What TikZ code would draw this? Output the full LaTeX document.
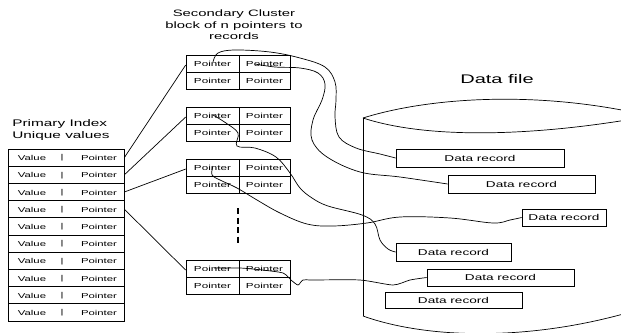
\documentclass[tikz,border=0pt]{standalone}
\usepackage{fontspec}
\setmainfont{Liberation Sans}[FakeStretch=1.6]
\usetikzlibrary{calc}
\begin{document}
\begin{tikzpicture}[x=1pt,y=-1pt,line width=0.7pt,
  celltext/.style={font=\fontsize{7.3}{8}\selectfont},
  pcell/.style={draw,inner sep=0pt,minimum height=17pt,celltext},
  blockbox/.style={draw,inner sep=0pt,minimum width=104pt,minimum height=34pt},
  pirow/.style={draw,inner sep=0pt,minimum width=116pt,minimum height=17.2pt},
  rowtext/.style={inner sep=0pt,font=\fontsize{7.1}{8}\selectfont},
  rec/.style={draw,inner sep=0pt,font=\fontsize{8.5}{9}\selectfont},
  wire/.style={line width=0.7pt},
  link/.style={line width=0.7pt,smooth,tension=0.6}]
\useasboundingbox (0,0) rectangle (621,332);
\fill[white] (0,0) rectangle (621,332);
\clip (0,0) rectangle (621,332);

% titles
\node[align=left,anchor=west,inner sep=0pt,font=\fontsize{9.6}{12.3}\selectfont] (pt) at (12,130) {Primary Index\\Unique values};
\node[align=center,inner sep=0pt,font=\fontsize{9.3}{11.4}\selectfont] (st) at (234,25) {Secondary Cluster\\block of n pointers to\\records};
\node[inner sep=0pt,font=\fontsize{12.5}{14}\selectfont] (df) at (497,79) {Data file};

% primary index table
\foreach \i in {1,...,10} {
  \pgfmathsetmacro{\yc}{149+17.2*\i-8.6}
  \node[pirow] (pi\i) at (66,\yc) {};
  \node[rowtext] (v\i) at (32,\yc+0.5) {Value};
  \node[rowtext] (s\i) at (62,\yc+0.5) {|};
  \node[rowtext] (p\i) at (99,\yc+0.5) {Pointer};
}

% secondary cluster blocks
\foreach \n/\yy in {1/55,2/107,3/159,4/260} {
  \node[blockbox] (b\n) at (238,\yy+17) {};
  \node[pcell,minimum width=53pt] (b\n-1) at (212.5,\yy+8.5) {Pointer};
  \node[pcell,minimum width=51pt] (b\n-2) at (264.5,\yy+8.5) {Pointer};
  \node[pcell,minimum width=53pt] (b\n-3) at (212.5,\yy+25.5) {Pointer};
  \node[pcell,minimum width=51pt] (b\n-4) at (264.5,\yy+25.5) {Pointer};
  \coordinate (b\n-in) at ($(b\n.north west)!0.3!(b\n.south west)$);
}

% index rows to blocks
\draw[wire] (pi1.east) -- (b1-in);
\draw[wire] (pi2.east) -- (b2-in);
\draw[wire] (pi3.east) -- (b3-in);
\draw[wire] (pi4.east) -- (b4-in);

% omitted blocks
\coordinate (d1) at (238,208);
\coordinate (d2) at (238,244);
\draw[line width=2.3pt,dash pattern=on 6pt off 3.5pt] (d1) -- (d2);

% data file cylinder
\draw (363,118) .. controls (430,97) and (540,90) .. (650,116);
\draw (363,118) .. controls (430,140) and (540,136) .. (650,116);
\draw (363,118) -- (363,316);
\draw (363,316) .. controls (430,340) and (540,342) .. (650,306);

% data records
\node[rec,minimum width=168pt,minimum height=18pt] (r1) at (480,158) {Data record};
\node[rec,minimum width=147pt,minimum height=18pt] (r2) at (521.5,184) {Data record};
\node[rec,minimum width=84pt,minimum height=17pt] (r3) at (564,217.5) {Data record};
\node[rec,minimum width=115pt,minimum height=18pt] (r4) at (453.5,252) {Data record};
\node[rec,minimum width=147pt,minimum height=17pt] (r5) at (500.5,277.5) {Data record};
\node[rec,minimum width=137pt,minimum height=16pt] (r6) at (453.5,300) {Data record};

% pointers to records
\coordinate (c1) at (213,62);
\coordinate (c2) at (255,64);
\coordinate (c3) at (213,115);
\coordinate (c4) at (213,166);
\coordinate (c5) at (214,268);

\draw[wire] plot[smooth,tension=0.6] coordinates {(c1) (218,53) (235,50) (270,52) (300,58) (325,67) (335,82) (336,100) (335,117) (339,137) (356,148) (380,154) (r1.west)};
\draw[wire] plot[smooth,tension=0.6] coordinates {(c2) (275,67) (300,68) (318,73) (325,84) (322,100) (313,120) (312,140) (327,157) (360,172) (400,177) (r2.west)};
\draw[wire] plot[smooth,tension=0.6] coordinates {(c3) (226,123) (238,133) (237,146) (255,148) (276,157) (290,173) (300,188) (312,198) (328,206) (362,215) (375,224) (380,240) (388,249) (r4.west)};
\draw[wire] plot[smooth,tension=0.6] coordinates {(c4) (212,175) (220,180) (237,188) (257,200) (280,213) (307,224) (333,226) (367,223) (400,217) (450,218) (493,223) (510,220) (r3.west)};
\draw[wire] plot[smooth,tension=0.4] coordinates {(c5) (240,268) (262,270) (283,273) (291,280) (298,285) (303,280) (313,280) (360,280) (393,285) (410,280) (r5.west)};
\end{tikzpicture}
\end{document}
